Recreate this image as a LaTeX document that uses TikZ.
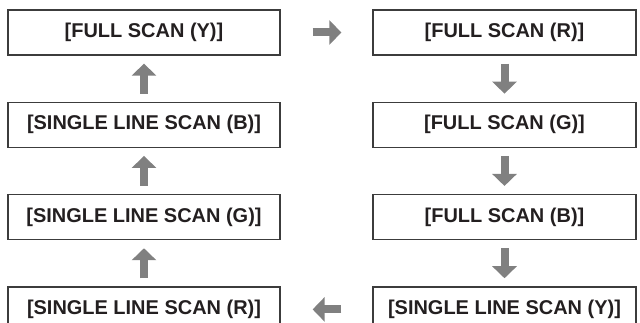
\documentclass[tikz,border=0pt]{standalone}
\usepackage{fontspec}
\setmainfont{Liberation Sans}
\usetikzlibrary{arrows.meta, positioning}
\definecolor{boxline}{HTML}{3C3C3C}
\definecolor{flowgray}{HTML}{808080}
\definecolor{scantext}{HTML}{231F20}
\tikzset{
  scanbox/.style={draw=boxline, line width=0.065cm, fill=white,
    minimum height=2.25cm, inner sep=0pt, text=scantext,
    font=\fontsize{28.4}{34}\selectfont\bfseries},
  leftbox/.style={scanbox, minimum width=13.6cm},
  rightbox/.style={scanbox, minimum width=13.15cm},
  flow/.style={draw=flowgray, line width=0.4cm,
    -{Triangle[width=1.2cm, length=0.6cm]},
    shorten <=0.4cm, shorten >=0.4cm},
}
\begin{document}
\begin{tikzpicture}[node distance=2.3cm]
  \useasboundingbox (0,0) rectangle (32,16.1);
  % left column
  \node[leftbox] (fs-y) at (7.2,14.475) {[FULL SCAN (Y)]};
  \node[leftbox, below=of fs-y] (sl-b) {[SINGLE LINE SCAN (B)]};
  \node[leftbox, below=of sl-b] (sl-g) {[SINGLE LINE SCAN (G)]};
  \node[leftbox, below=of sl-g] (sl-r) {[SINGLE LINE SCAN (R)]};
  % right column
  \node[rightbox] (fs-r) at (25.225,14.475) {[FULL SCAN (R)]};
  \node[rightbox, below=of fs-r] (fs-g) {[FULL SCAN (G)]};
  \node[rightbox, below=of fs-g] (fs-b) {[FULL SCAN (B)]};
  \node[rightbox, below=of fs-b] (sl-y) {[SINGLE LINE SCAN (Y)]};
  % flow: across the top, down the right, back along the bottom, up the left
  \draw[flow, shorten <=1.6cm, shorten >=1.55cm] (fs-y) -- (fs-r);
  \foreach \a/\b in {fs-r/fs-g, fs-g/fs-b, fs-b/sl-y}
    \draw[flow] (\a) -- (\b);
  \draw[flow, shorten <=1.55cm, shorten >=1.6cm] (sl-y) -- (sl-r);
  \foreach \a/\b in {sl-r/sl-g, sl-g/sl-b, sl-b/fs-y}
    \draw[flow] (\a) -- (\b);
\end{tikzpicture}
\end{document}
